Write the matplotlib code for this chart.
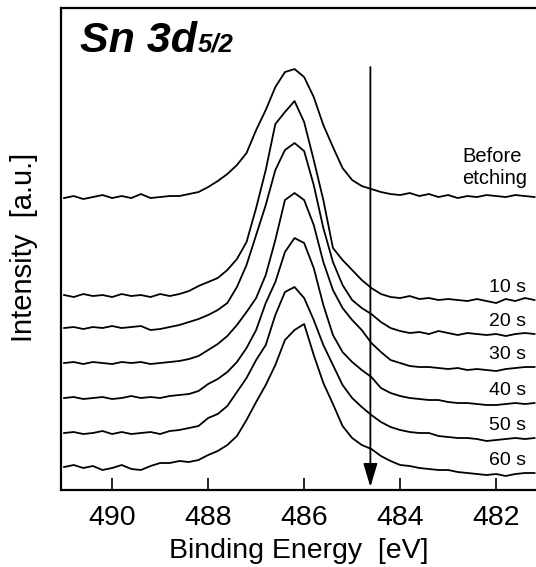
import numpy as np
import matplotlib.pyplot as plt

plt.rcParams['font.family'] = ['Liberation Sans', 'DejaVu Sans']

# binding energy axis of the scans (eV), 0.2 eV steps from 491.0 down to 481.2
energy = np.linspace(491.0, 481.2, 50)

# Sn 3d5/2 spectra, already stacked with vertical offsets (a.u.)
before_etching = [292, 294, 291, 293, 295, 292, 294, 292, 296, 292, 293, 294, 294, 296,
                  298, 303, 309, 316, 325, 337, 360, 380, 403, 418,
                  421, 413, 393, 365, 343, 322, 310, 304, 301, 298,
                  296, 295, 297, 294, 296, 293, 295, 292, 294, 293,
                  295, 294, 293, 295, 294, 293]
etch_10s = [195, 193, 196, 194, 195, 193, 196, 194, 195, 193, 196, 194, 196, 199,
            204, 208, 212, 220, 231, 248, 282, 320, 366, 378,
            389, 368, 330, 290, 242, 230, 220, 210, 202, 196,
            193, 192, 194, 191, 192, 190, 191, 190, 189, 191,
            189, 187, 191, 189, 192, 190]
etch_20s = [162, 163, 161, 163, 162, 164, 162, 163, 164, 160, 161, 163, 165, 168,
            171, 175, 180, 187, 203, 225, 255, 285, 320, 340,
            347, 339, 305, 262, 228, 205, 190, 182, 176, 168,
            162, 159, 157, 158, 156, 159, 157, 155, 157, 156,
            155, 156, 154, 156, 157, 156]
etch_30s = [127, 128, 126, 128, 127, 126, 128, 127, 128, 126, 127, 128, 129, 131,
            134, 140, 146, 154, 165, 178, 192, 215, 250, 290,
            297, 290, 265, 228, 200, 182, 170, 160, 147, 138,
            130, 127, 124, 123, 123, 122, 121, 122, 120, 121,
            120, 119, 121, 122, 123, 123]
etch_40s = [92, 93, 91, 92, 93, 91, 92, 94, 92, 93, 92, 94, 95, 96,
            99, 106, 111, 118, 128, 142, 160, 187, 208, 238,
            252, 247, 222, 185, 155, 138, 128, 120, 113, 102,
            97, 94, 92, 91, 90, 90, 88, 87, 87, 86,
            85, 85, 86, 87, 86, 87]
etch_50s = [57, 58, 56, 57, 59, 56, 58, 56, 57, 58, 56, 59, 60, 62,
            64, 72, 76, 84, 98, 112, 130, 145, 175, 198,
            203, 192, 170, 145, 125, 105, 92, 83, 75, 68,
            63, 60, 58, 57, 57, 54, 53, 52, 52, 51,
            49, 50, 51, 52, 51, 52]
etch_60s = [23, 25, 22, 24, 20, 22, 25, 21, 20, 24, 27, 27, 29, 28,
            30, 35, 39, 45, 54, 70, 88, 105, 125, 150,
            160, 166, 135, 107, 86, 64, 52, 45, 41, 34,
            29, 25, 24, 22, 21, 20, 20, 18, 17, 16,
            15, 16, 14, 16, 17, 17]

etched = [etch_10s, etch_20s, etch_30s, etch_40s, etch_50s, etch_60s]
etch_labels = ['10 s', '20 s', '30 s', '40 s', '50 s', '60 s']

# position of the marker arrow (eV)
marker_energy = 484.62

fig = plt.figure(figsize=(5.36, 5.67), dpi=100)
ax = fig.add_axes([0.1138, 0.1358, 0.8862, 0.850])

for spec in [before_etching] + etched:
    ax.plot(energy, spec, color='k', lw=1.3)

ax.set_xlim(491.065, 481.17)
ax.set_ylim(0, 482)
ax.set_xticks([490, 488, 486, 484, 482])
ax.set_yticks([])
ax.tick_params(axis='x', direction='in', length=9, width=1.2, pad=11, labelsize=20.5)
ax.spines['right'].set_visible(False)
for side in ['left', 'bottom', 'top']:
    ax.spines[side].set_linewidth(1.6)

ax.set_xlabel('Binding Energy  [eV]', fontsize=20.5, labelpad=5)
fig.text(24 / 536, 1 - 247 / 567, 'Intensity  [a.u.]', rotation=90,
         ha='center', va='center', fontsize=21)

# curve labels
for spec, lab in zip(etched, etch_labels):
    ax.text(481.38, spec[-1] + 8, lab, ha='right', va='baseline', fontsize=14)
ax.text(482.71, before_etching[-1] + 13, 'Before\netching', ha='left',
        va='baseline', fontsize=14.5, linespacing=1.2)

ax.annotate('', xy=(marker_energy, 3), xytext=(marker_energy, 423),
            arrowprops=dict(arrowstyle='-|>,head_length=0.8,head_width=0.24',
                            mutation_scale=18, lw=1.3, color='k',
                            shrinkA=0, shrinkB=0))

# title with the smaller 5/2 on the same baseline
ty = 1 - 52 / 567
t = fig.text(80 / 536, ty, 'Sn 3d', fontsize=31, fontweight='bold',
             fontstyle='italic', va='baseline')
fig.canvas.draw()
bb = t.get_window_extent()
fig.text(bb.x1 / fig.bbox.width + 0.002, ty, '5/2', fontsize=18.5,
         fontweight='bold', fontstyle='italic', va='baseline')

fig.savefig('out.png', dpi=100)
